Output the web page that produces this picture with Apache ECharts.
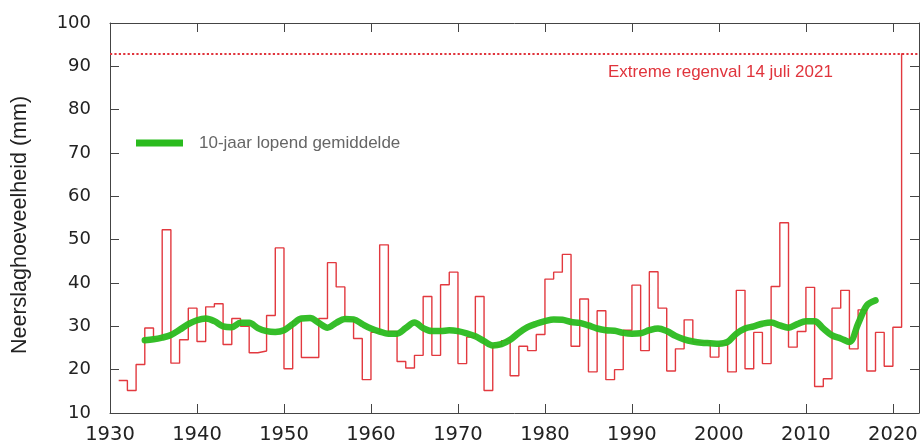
<!DOCTYPE html>
<html>
<head>
<meta charset="utf-8">
<script src="https://cdn.jsdelivr.net/npm/echarts@6/dist/echarts.min.js"></script>
<style>
html,body{margin:0;padding:0;background:#fff;}
#chart{width:922px;height:446px;}
</style>
</head>
<body>
<div id="chart"></div>
<script>
// Yearly values (step line), years 1931..2021
const years = [
1931,1932,1933,1934,1935,1936,1937,1938,1939,1940,
1941,1942,1943,1944,1945,1946,1947,1948,1949,1950,
1951,1952,1953,1954,1955,1956,1957,1958,1959,1960,
1961,1962,1963,1964,1965,1966,1967,1968,1969,1970,
1971,1972,1973,1974,1975,1976,1977,1978,1979,1980,
1981,1982,1983,1984,1985,1986,1987,1988,1989,1990,
1991,1992,1993,1994,1995,1996,1997,1998,1999,2000,
2001,2002,2003,2004,2005,2006,2007,2008,2009,2010,
2011,2012,2013,2014,2015,2016,2017,2018,2019,2020,
2021];
const rainfall = [
17.5,15.2,21.2,29.6,27.1,52.3,21.5,26.9,34.2,26.5,
34.5,35.2,25.8,31.8,30.0,23.9,24.3,32.5,48.1,20.2,
31.2,22.8,22.8,31.8,44.7,39.1,31.6,27.2,17.7,28.6,
48.8,28.8,21.9,20.4,23.3,36.9,23.3,39.6,42.5,21.4,
27.5,36.9,15.2,25.4,26.7,18.6,25.4,24.4,28.1,40.9,
42.5,46.6,25.4,36.3,19.5,33.6,17.7,20.0,29.1,39.5,
24.4,42.6,34.2,19.7,24.8,31.5,26.4,26.4,22.9,25.8,
19.5,38.3,20.2,28.6,21.4,39.2,53.9,25.2,28.8,39.0,
16.1,17.9,34.2,38.3,24.8,33.8,19.7,28.6,20.8,29.8,
93.0];

// 10-year running mean, years 1934..2018
const maYears = [
1934,1935,1936,1937,1938,1939,1940,1941,1942,1943,
1944,1945,1946,1947,1948,1949,1950,1951,1952,1953,
1954,1955,1956,1957,1958,1959,1960,1961,1962,1963,
1964,1965,1966,1967,1968,1969,1970,1971,1972,1973,
1974,1975,1976,1977,1978,1979,1980,1981,1982,1983,
1984,1985,1986,1987,1988,1989,1990,1991,1992,1993,
1994,1995,1996,1997,1998,1999,2000,2001,2002,2003,
2004,2005,2006,2007,2008,2009,2010,2011,2012,2013,
2014,2015,2016,2017,2018];
const movingAvg = [
26.8,27.0,27.4,28.0,29.2,30.5,31.4,31.8,31.2,30.0,
29.8,30.8,30.8,29.6,28.9,28.7,29.1,30.5,31.8,31.9,
30.8,29.7,30.8,31.7,31.6,30.5,29.5,28.8,28.3,28.3,
29.6,30.9,29.6,28.9,28.9,29.1,28.9,28.4,27.7,26.6,
25.6,25.9,26.9,28.5,29.8,30.6,31.2,31.6,31.5,31.0,
30.8,30.2,29.5,29.1,29.0,28.5,28.3,28.4,29.1,29.5,
28.9,27.8,27.0,26.5,26.2,26.1,26.0,26.4,28.3,29.5,
30.0,30.6,30.9,30.2,29.7,30.5,31.2,31.2,29.5,27.9,
27.2,26.4,30.6,34.8,36.0];

const extremeValue = 93;
const xTicks = [1930,1940,1950,1960,1970,1980,1990,2000,2010,2020];
const yTicks = [10,20,30,40,50,60,70,80,90,100];
const legendLabel = '10-jaar lopend gemiddelde';
const extremeLabel = 'Extreme regenval 14 juli 2021';
const yTitle = 'Neerslaghoeveelheid (mm)';

const FONT = 'Liberation Sans, Arial, Helvetica, sans-serif';
const TICKFONT = 'DejaVu Sans, Verdana, sans-serif';
const axisColor = '#444';

const chart = echarts.init(document.getElementById('chart'), null, {renderer:'canvas'});

const stepData = years.map((y,i)=>[y, rainfall[i]]);
const maData = maYears.map((y,i)=>[y, movingAvg[i]]);

const commonX = {
  type:'value', min:xTicks[0], max:2023, interval:10,
  axisLine:{show:true, lineStyle:{color:axisColor, width:1}},
  axisTick:{show:true, inside:true, length:9, lineStyle:{color:axisColor}},
  splitLine:{show:false}
};
const commonY = {
  type:'value', min:yTicks[0], max:yTicks[yTicks.length-1], interval:10,
  axisLine:{show:true, lineStyle:{color:axisColor, width:1}},
  axisTick:{show:true, inside:true, length:9, lineStyle:{color:axisColor}},
  splitLine:{show:false}
};

chart.setOption({
  animation:false,
  backgroundColor:'#fff',
  grid:{left:110, top:23, right:3, bottom:33, containLabel:false},
  xAxis:[
    Object.assign({}, commonX, {position:'bottom',
      axisLabel:{show:true, margin:12, color:'#222', fontSize:19.5, fontFamily:TICKFONT,
        formatter:v=>xTicks.indexOf(v)>=0?String(v):''}}),
    Object.assign({}, commonX, {position:'top', axisLabel:{show:false}})
  ],
  yAxis:[
    Object.assign({}, commonY, {position:'left',
      axisLabel:{show:true, margin:19, color:'#222', fontSize:18, fontFamily:TICKFONT}}),
    Object.assign({}, commonY, {position:'right', axisLabel:{show:false}})
  ],
  series:[
    {
      type:'line', name:'Neerslag', data:stepData, step:'end',
      showSymbol:false, symbol:'none', z:2,
      lineStyle:{color:'#e2393f', width:1.4},
      markLine:{
        silent:true, symbol:['none','none'],
        label:{show:false},
        lineStyle:{color:'#e0343c', type:'dotted', width:2.2},
        data:[{yAxis:extremeValue}]
      }
    },
    {
      type:'line', name:legendLabel, data:maData, smooth:0.35,
      showSymbol:false, symbol:'none', z:3,
      lineStyle:{color:'#2abb1e', width:6.5, opacity:0.95, cap:'round', join:'round'}
    }
  ],
  graphic:[
    {type:'line', shape:{x1:136, y1:143, x2:183, y2:143},
     style:{stroke:'#2abb1e', lineWidth:7}},
    {type:'text', x:199, y:143,
     style:{text:legendLabel, fill:'#666', font:'17px '+FONT, verticalAlign:'middle', align:'left'}},
    {type:'text', x:608, y:72,
     style:{text:extremeLabel, fill:'#e0343c', font:'17px '+FONT, verticalAlign:'middle', align:'left'}},
    {type:'text', x:20, y:225, rotation:Math.PI/2,
     style:{text:yTitle, fill:'#222', font:'21.5px '+FONT, verticalAlign:'middle', align:'center'}}
  ]
});
</script>
</body>
</html>
